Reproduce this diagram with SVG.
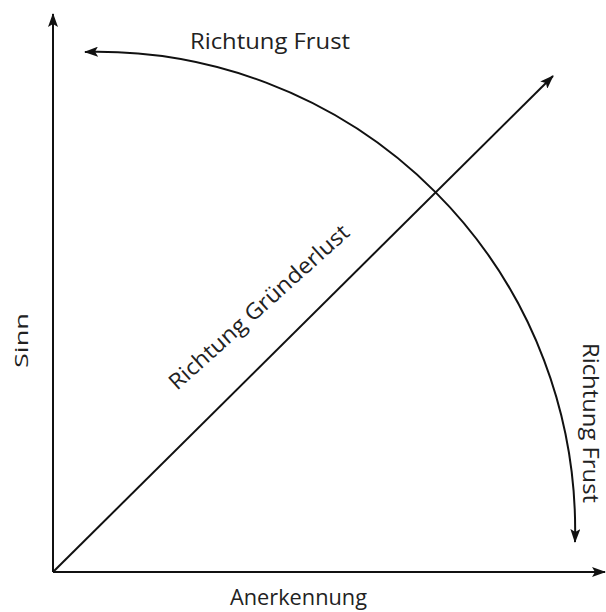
<svg xmlns="http://www.w3.org/2000/svg" width="606" height="612" viewBox="0 0 606 612">
  <defs>
    <marker id="ah" viewBox="0 0 14 10" refX="13" refY="5" markerWidth="14" markerHeight="10" markerUnits="userSpaceOnUse" orient="auto-start-reverse">
      <path d="M0,0 L14,5 L0,10 L3,5 z" fill="#111"/>
    </marker>
    <style>
      .ln { fill: none; stroke: #111; stroke-width: 2; }
      .lbl { font-family: "Open Sans", "Liberation Sans", sans-serif; font-size: 22px; fill: #222; }
    </style>
  </defs>
  <rect width="606" height="612" fill="#fff"/>
  <g id="connectors">
    <path id="axis-sinn" class="ln" d="M53,572 L53,14" marker-end="url(#ah)"/>
    <path id="axis-anerkennung" class="ln" d="M53,572 L605,572" marker-end="url(#ah)"/>
    <path id="gruenderlust" class="ln" d="M53,572 L553,76" marker-end="url(#ah)"/>
    <path id="frust-arc" class="ln" d="M85,52 A478,478 0 0 1 575,542" marker-start="url(#ah)" marker-end="url(#ah)"/>
  </g>
  <g id="label-frust-top"><text class="lbl" x="190" y="49" textLength="160" lengthAdjust="spacingAndGlyphs">Richtung Frust</text></g>
  <g id="label-frust-right"><text class="lbl" style="font-size:21px" transform="translate(583,343) rotate(90)" x="0" y="0" textLength="160" lengthAdjust="spacingAndGlyphs">Richtung Frust</text></g>
  <g id="label-gruenderlust"><text class="lbl" transform="translate(177,391) rotate(-42)" x="0" y="0" textLength="234" lengthAdjust="spacingAndGlyphs">Richtung Gründerlust</text></g>
  <g id="label-anerkennung"><text class="lbl" x="230" y="605" textLength="137" lengthAdjust="spacingAndGlyphs">Anerkennung</text></g>
  <g id="label-sinn"><text class="lbl" style="font-size:19px" transform="translate(28,368) rotate(-90)" x="0" y="0" textLength="55" lengthAdjust="spacingAndGlyphs">Sinn</text></g>
</svg>
